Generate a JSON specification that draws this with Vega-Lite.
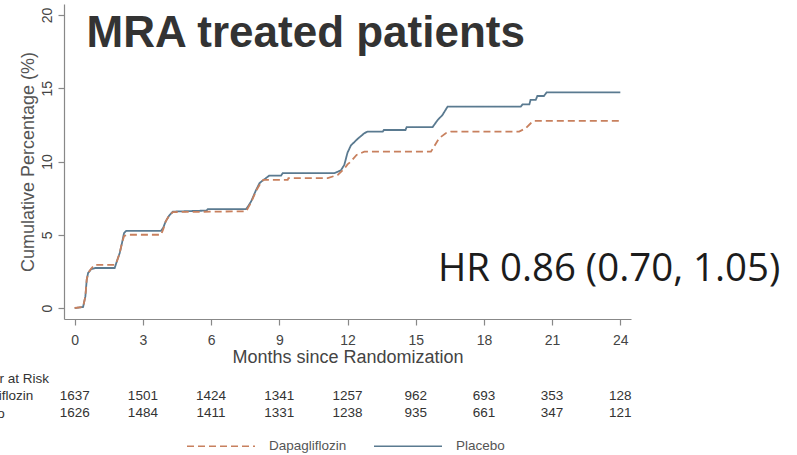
{
  "$schema": "https://vega.github.io/schema/vega-lite/v6.json",
  "background": "white",
  "padding": {"left": -45, "top": 4, "right": 0, "bottom": 0},
  "config": {"view": {"stroke": null}, "font": "Liberation Sans"},
  "datasets": {
    "km": [
      {"group": "Placebo", "month": 0, "pct": 0},
      {"group": "Placebo", "month": 0.37, "pct": 0.07},
      {"group": "Placebo", "month": 0.47, "pct": 0.79},
      {"group": "Placebo", "month": 0.53, "pct": 1.93},
      {"group": "Placebo", "month": 0.59, "pct": 2.39},
      {"group": "Placebo", "month": 0.73, "pct": 2.66},
      {"group": "Placebo", "month": 0.9, "pct": 2.73},
      {"group": "Placebo", "month": 1.76, "pct": 2.73},
      {"group": "Placebo", "month": 1.83, "pct": 3.07},
      {"group": "Placebo", "month": 1.98, "pct": 3.75},
      {"group": "Placebo", "month": 2.08, "pct": 4.43},
      {"group": "Placebo", "month": 2.17, "pct": 5.11},
      {"group": "Placebo", "month": 2.27, "pct": 5.27},
      {"group": "Placebo", "month": 3.8, "pct": 5.27},
      {"group": "Placebo", "month": 3.9, "pct": 5.5},
      {"group": "Placebo", "month": 4.0, "pct": 5.9},
      {"group": "Placebo", "month": 4.15, "pct": 6.3},
      {"group": "Placebo", "month": 4.32, "pct": 6.58},
      {"group": "Placebo", "month": 5.8, "pct": 6.65},
      {"group": "Placebo", "month": 5.86, "pct": 6.75},
      {"group": "Placebo", "month": 7.54, "pct": 6.75},
      {"group": "Placebo", "month": 7.65, "pct": 7.0},
      {"group": "Placebo", "month": 7.76, "pct": 7.27},
      {"group": "Placebo", "month": 7.98, "pct": 8.06},
      {"group": "Placebo", "month": 8.13, "pct": 8.52},
      {"group": "Placebo", "month": 8.27, "pct": 8.7},
      {"group": "Placebo", "month": 8.56, "pct": 9.04},
      {"group": "Placebo", "month": 9.08, "pct": 9.04},
      {"group": "Placebo", "month": 9.15, "pct": 9.2},
      {"group": "Placebo", "month": 11.42, "pct": 9.2},
      {"group": "Placebo", "month": 11.71, "pct": 9.4},
      {"group": "Placebo", "month": 11.86, "pct": 9.77},
      {"group": "Placebo", "month": 12.0, "pct": 10.6},
      {"group": "Placebo", "month": 12.15, "pct": 11.1},
      {"group": "Placebo", "month": 12.45, "pct": 11.55},
      {"group": "Placebo", "month": 12.74, "pct": 11.93},
      {"group": "Placebo", "month": 12.88, "pct": 12.04},
      {"group": "Placebo", "month": 13.55, "pct": 12.04},
      {"group": "Placebo", "month": 13.6, "pct": 12.15},
      {"group": "Placebo", "month": 14.55, "pct": 12.15},
      {"group": "Placebo", "month": 14.6, "pct": 12.34},
      {"group": "Placebo", "month": 15.74, "pct": 12.34},
      {"group": "Placebo", "month": 15.95, "pct": 12.8},
      {"group": "Placebo", "month": 16.18, "pct": 13.18},
      {"group": "Placebo", "month": 16.4, "pct": 13.74},
      {"group": "Placebo", "month": 19.62, "pct": 13.74},
      {"group": "Placebo", "month": 19.7, "pct": 13.9},
      {"group": "Placebo", "month": 20.0, "pct": 13.9},
      {"group": "Placebo", "month": 20.05, "pct": 14.2},
      {"group": "Placebo", "month": 20.28, "pct": 14.2},
      {"group": "Placebo", "month": 20.35, "pct": 14.47},
      {"group": "Placebo", "month": 20.64, "pct": 14.47},
      {"group": "Placebo", "month": 20.76, "pct": 14.72},
      {"group": "Placebo", "month": 24.0, "pct": 14.72},
      {"group": "Dapagliflozin", "month": 0, "pct": 0},
      {"group": "Dapagliflozin", "month": 0.37, "pct": 0.07},
      {"group": "Dapagliflozin", "month": 0.47, "pct": 0.79},
      {"group": "Dapagliflozin", "month": 0.53, "pct": 1.93},
      {"group": "Dapagliflozin", "month": 0.59, "pct": 2.39},
      {"group": "Dapagliflozin", "month": 0.73, "pct": 2.7},
      {"group": "Dapagliflozin", "month": 0.88, "pct": 2.95},
      {"group": "Dapagliflozin", "month": 1.76, "pct": 2.95},
      {"group": "Dapagliflozin", "month": 1.83, "pct": 3.07},
      {"group": "Dapagliflozin", "month": 1.98, "pct": 3.75},
      {"group": "Dapagliflozin", "month": 2.08, "pct": 4.43},
      {"group": "Dapagliflozin", "month": 2.17, "pct": 4.9},
      {"group": "Dapagliflozin", "month": 2.3, "pct": 5.0},
      {"group": "Dapagliflozin", "month": 3.8, "pct": 5.0},
      {"group": "Dapagliflozin", "month": 3.9, "pct": 5.4},
      {"group": "Dapagliflozin", "month": 4.0, "pct": 5.9},
      {"group": "Dapagliflozin", "month": 4.15, "pct": 6.3},
      {"group": "Dapagliflozin", "month": 4.32, "pct": 6.55},
      {"group": "Dapagliflozin", "month": 7.54, "pct": 6.6},
      {"group": "Dapagliflozin", "month": 7.65, "pct": 6.9},
      {"group": "Dapagliflozin", "month": 7.76, "pct": 7.2},
      {"group": "Dapagliflozin", "month": 7.98, "pct": 8.0},
      {"group": "Dapagliflozin", "month": 8.13, "pct": 8.4},
      {"group": "Dapagliflozin", "month": 8.3, "pct": 8.75},
      {"group": "Dapagliflozin", "month": 9.37, "pct": 8.75},
      {"group": "Dapagliflozin", "month": 9.4, "pct": 8.86},
      {"group": "Dapagliflozin", "month": 11.13, "pct": 8.86},
      {"group": "Dapagliflozin", "month": 11.57, "pct": 9.09},
      {"group": "Dapagliflozin", "month": 11.86, "pct": 9.5},
      {"group": "Dapagliflozin", "month": 12.0, "pct": 9.8},
      {"group": "Dapagliflozin", "month": 12.15, "pct": 10.0},
      {"group": "Dapagliflozin", "month": 12.4, "pct": 10.45},
      {"group": "Dapagliflozin", "month": 12.74, "pct": 10.67},
      {"group": "Dapagliflozin", "month": 15.67, "pct": 10.67},
      {"group": "Dapagliflozin", "month": 16.03, "pct": 11.59},
      {"group": "Dapagliflozin", "month": 16.32, "pct": 11.93},
      {"group": "Dapagliflozin", "month": 16.55, "pct": 12.04},
      {"group": "Dapagliflozin", "month": 19.55, "pct": 12.04},
      {"group": "Dapagliflozin", "month": 19.84, "pct": 12.27},
      {"group": "Dapagliflozin", "month": 20.06, "pct": 12.61},
      {"group": "Dapagliflozin", "month": 20.2, "pct": 12.77},
      {"group": "Dapagliflozin", "month": 24.0, "pct": 12.77}
    ],
    "risk": [
      {"group": "Dapagliflozin", "month": 0, "n": 1637},
      {"group": "Dapagliflozin", "month": 3, "n": 1501},
      {"group": "Dapagliflozin", "month": 6, "n": 1424},
      {"group": "Dapagliflozin", "month": 9, "n": 1341},
      {"group": "Dapagliflozin", "month": 12, "n": 1257},
      {"group": "Dapagliflozin", "month": 15, "n": 962},
      {"group": "Dapagliflozin", "month": 18, "n": 693},
      {"group": "Dapagliflozin", "month": 21, "n": 353},
      {"group": "Dapagliflozin", "month": 24, "n": 128},
      {"group": "Placebo", "month": 0, "n": 1626},
      {"group": "Placebo", "month": 3, "n": 1484},
      {"group": "Placebo", "month": 6, "n": 1411},
      {"group": "Placebo", "month": 9, "n": 1331},
      {"group": "Placebo", "month": 12, "n": 1238},
      {"group": "Placebo", "month": 15, "n": 935},
      {"group": "Placebo", "month": 18, "n": 661},
      {"group": "Placebo", "month": 21, "n": 347},
      {"group": "Placebo", "month": 24, "n": 121}
    ]
  },
  "bounds": "flush",
  "spacing": 50.5,
  "vconcat": [
    {
      "width": 567,
      "height": 315,
      "layer": [
        {
          "data": {"name": "km"},
          "mark": {"type": "line", "strokeWidth": 1.8, "interpolate": "linear"},
          "encoding": {
            "x": {
              "field": "month", "type": "quantitative",
              "scale": {"domain": [-0.47, 24.47], "nice": false, "zero": false},
              "axis": {
                "values": [0, 3, 6, 9, 12, 15, 18, 21, 24],
                "title": "Months since Randomization",
                "grid": false,
                "domainColor": "#888888", "domainWidth": 1.2,
                "tickColor": "#888888", "tickSize": 6, "tickWidth": 1.2,
                "labelFontSize": 14, "labelColor": "#444444", "labelPadding": 8,
                "titleFontSize": 18, "titleFontWeight": "normal", "titleColor": "#444444", "titlePadding": 1
              }
            },
            "y": {
              "field": "pct", "type": "quantitative",
              "scale": {"domain": [-0.75, 20.75], "nice": false, "zero": false},
              "axis": {
                "values": [0, 5, 10, 15, 20],
                "title": "Cumulative Percentage (%)",
                "grid": false,
                "domainColor": "#888888", "domainWidth": 1.2,
                "tickColor": "#888888", "tickSize": 6, "tickWidth": 1.2,
                "labelAngle": -90, "labelAlign": "center", "labelBaseline": "bottom",
                "labelFontSize": 14, "labelColor": "#444444", "labelPadding": 4,
                "titleFontSize": 18, "titleFontWeight": "normal", "titleColor": "#555555", "titlePadding": 3
              }
            },
            "color": {
              "field": "group", "type": "nominal",
              "scale": {"domain": ["Dapagliflozin", "Placebo"], "range": ["#c8805e", "#5a7a90"]},
              "legend": {
                "title": null, "orient": "none", "legendX": 122, "legendY": 407,
                "direction": "horizontal", "symbolType": "stroke", "symbolSize": 4624,
                "symbolStrokeWidth": 1.3, "labelFontSize": 13.5, "labelColor": "#555555",
                "labelOffset": 13, "columnPadding": 24, "padding": 0
              }
            },
            "strokeDash": {
              "field": "group", "type": "nominal",
              "scale": {"domain": ["Dapagliflozin", "Placebo"], "range": [[7, 4], [1, 0]]},
              "legend": {
                "title": null, "orient": "none", "legendX": 122, "legendY": 407,
                "direction": "horizontal", "symbolType": "stroke", "symbolSize": 4624,
                "symbolStrokeWidth": 1.3, "labelFontSize": 13.5, "labelColor": "#555555",
                "labelOffset": 13, "columnPadding": 24, "padding": 0
              }
            }
          }
        },
        {
          "data": {"values": [{}]},
          "mark": {"type": "text", "align": "left", "baseline": "alphabetic", "fontSize": 44, "fontWeight": "bold", "color": "#333333", "text": "MRA treated patients"},
          "encoding": {
            "x": {"datum": 0.52, "type": "quantitative"},
            "y": {"datum": 17.83, "type": "quantitative"}
          }
        },
        {
          "data": {"values": [{}]},
          "mark": {"type": "text", "align": "left", "baseline": "alphabetic", "font": "Open Sans", "fontSize": 38.4, "color": "#1c1c1c", "text": "HR 0.86 (0.70, 1.05)"},
          "encoding": {
            "x": {"datum": 15.98, "type": "quantitative"},
            "y": {"datum": 1.81, "type": "quantitative"}
          }
        }
      ]
    },
    {
      "width": 567,
      "height": 52.5,
      "data": {"name": "risk"},
      "mark": {"type": "text", "fontSize": 13.5, "color": "#333333", "baseline": "middle"},
      "encoding": {
        "x": {
          "field": "month", "type": "quantitative",
          "scale": {"domain": [-0.47, 24.47], "nice": false, "zero": false},
          "axis": null
        },
        "y": {
          "field": "group", "type": "nominal",
          "scale": {"type": "point", "domain": ["Number at Risk", "Dapagliflozin", "Placebo"], "padding": 0.5},
          "axis": {
            "title": null, "domain": false, "ticks": false, "tickSize": 0,
            "labelAlign": "left", "labelBaseline": "middle", "labelPadding": 108.5,
            "labelFontSize": 13.5, "labelColor": "#333333", "labelLimit": 0
          }
        },
        "text": {"field": "n", "type": "quantitative"}
      }
    }
  ]
}
